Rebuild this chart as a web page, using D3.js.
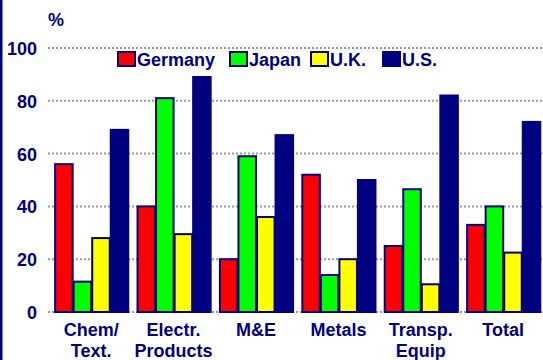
<!DOCTYPE html>
<html>
<head>
<meta charset="utf-8">
<script src="https://cdn.jsdelivr.net/npm/d3@7"></script>
<style>
  body { margin: 0; background: #fff; }
  svg text { font-family: "Liberation Sans", Arial, sans-serif; font-weight: bold; fill: #000080; }
</style>
</head>
<body>
<div id="chart-area"></div>
<script>
// data
var categories = ["Chem/\nText.", "Electr.\nProducts", "M&E", "Metals", "Transp.\nEquip", "Total"];
var series = ["Germany", "Japan", "U.K.", "U.S."];
var germany = [56, 40, 20, 52, 25, 33];
var japan = [11.5, 81, 59, 14, 46.5, 40];
var uk = [28, 29.5, 36, 20, 10.5, 22.5];
var us = [69, 89, 67, 50, 82, 72];
var yTicks = [0, 20, 40, 60, 80, 100];
var colors = ["#ff0000", "#00ff00", "#ffff00", "#000080"];

var values = [germany, japan, uk, us];
var width = 543, height = 360;

var svg = d3.select("#chart-area")
  .append("svg")
  .attr("width", width)
  .attr("height", height);

// left border
svg.append("rect")
  .attr("x", 0).attr("y", 0)
  .attr("width", 2.5).attr("height", height)
  .attr("fill", "#000080");

// scales
var x = d3.scaleBand()
  .domain(categories)
  .range([50, 544.4])
  .paddingInner(0.1)
  .paddingOuter(0.05);

var xInner = d3.scaleBand()
  .domain(series)
  .range([0, x.bandwidth()]);

var y = d3.scaleLinear()
  .domain([0, 100])
  .range([312, 48]);

// gridlines
svg.append("g")
  .selectAll("line")
  .data(yTicks)
  .enter()
  .append("line")
  .attr("x1", 48)
  .attr("x2", width)
  .attr("y1", function(d) { return y(d); })
  .attr("y2", function(d) { return y(d); })
  .attr("stroke", "#999")
  .attr("stroke-width", 2)
  .attr("stroke-dasharray", "2,2");

// y axis labels
var yAxis = d3.axisLeft(y).tickValues(yTicks).tickSize(0).tickPadding(0);
var gy = svg.append("g")
  .attr("transform", "translate(37,0)")
  .call(yAxis);
gy.select(".domain").remove();
gy.selectAll("text")
  .attr("font-size", 18)
  .attr("font-family", null)
  .attr("dy", "0.36em")
  .attr("fill", "#000080");

svg.append("text")
  .attr("x", 48)
  .attr("y", 26)
  .attr("font-size", 18)
  .text("%");

// bars
var groups = svg.selectAll(".grp")
  .data(categories)
  .enter()
  .append("g")
  .attr("class", "grp")
  .attr("transform", function(d) { return "translate(" + x(d) + ",0)"; });

groups.selectAll("rect")
  .data(function(d, i) {
    return series.map(function(s, j) { return {s: s, v: values[j][i], c: colors[j]}; });
  })
  .enter()
  .append("rect")
  .attr("x", function(d) { return xInner(d.s) + 1; })
  .attr("y", function(d) { return y(d.v); })
  .attr("width", xInner.bandwidth() - 1)
  .attr("height", function(d) { return y(0) - y(d.v); })
  .attr("fill", function(d) { return d.c; })
  .attr("stroke", "#000080")
  .attr("stroke-width", 2);

// category labels
groups.each(function(d) {
  var lines = d.split("\n");
  var t = d3.select(this).append("text")
    .attr("text-anchor", "middle")
    .attr("font-size", 18)
    .attr("x", x.bandwidth() / 2)
    .attr("y", 336);
  lines.forEach(function(l, i) {
    t.append("tspan")
      .attr("x", x.bandwidth() / 2)
      .attr("dy", i === 0 ? 0 : 20.5)
      .text(l);
  });
});

// legend
var legendX = [117, 229, 310, 382];
var legend = svg.selectAll(".leg")
  .data(series)
  .enter()
  .append("g")
  .attr("class", "leg")
  .attr("transform", function(d, i) { return "translate(" + legendX[i] + ",51)"; });

legend.append("rect")
  .attr("x", 1).attr("y", 1)
  .attr("width", 17).attr("height", 14)
  .attr("fill", function(d, i) { return colors[i]; })
  .attr("stroke", "#000080")
  .attr("stroke-width", 2);

legend.append("text")
  .attr("x", 20)
  .attr("y", 15)
  .attr("font-size", 18)
  .text(function(d) { return d; });
</script>
</body>
</html>
